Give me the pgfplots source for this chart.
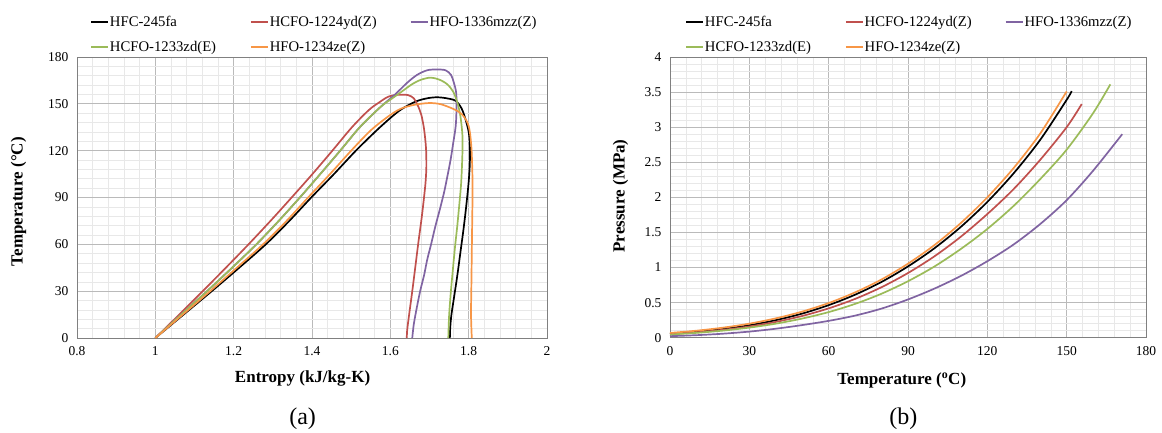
\documentclass[border=0pt]{standalone}
\usepackage{fontspec}
\setmainfont{Liberation Serif}
\usepackage{pgfplots}
\pgfplotsset{compat=1.18}
\definecolor{cRed}{RGB}{192,80,77}
\definecolor{cPurple}{RGB}{128,100,162}
\definecolor{cGreen}{RGB}{155,187,89}
\definecolor{cOrange}{RGB}{247,150,70}
\pgfplotsset{myax/.style={
  scale only axis, clip=false,
  grid=both,
  major grid style={black!27, line width=0.8pt},
  minor grid style={black!9, line width=0.6pt},
  axis line style={black!50, line width=0.9pt},
  major tick length=0pt, minor tick length=0pt,
  minor x tick num=4, minor y tick num=4,
  tick label style={font=\fontsize{13.5}{16}\selectfont},
  yticklabel style={xshift=-5pt},
  xticklabel style={yshift=-5pt},
  /pgf/number format/assume math mode=true,
  label style={font=\bfseries\fontsize{17}{20}\selectfont},
  legend columns=3,
  legend cell align=left,
  legend style={draw=none, fill=none, anchor=west,
    font=\fontsize{14.7}{17}\selectfont, inner sep=0pt,
    row sep=3pt,
    nodes={inner xsep=1pt, inner ysep=5pt},
    /tikz/every odd column/.style={column sep=0pt},
    /tikz/every even column/.style={column sep=0pt}},
  every axis plot/.append style={line width=1.7pt, smooth, no markers},
}}
\begin{document}
\begin{tikzpicture}
\path[use as bounding box] (0,0) rectangle (1162pt,432pt);
\begin{axis}[myax,
  at={(77pt,94pt)}, anchor=south west,
  width=470pt, height=281pt,
  xmin=0.8, xmax=2, ymin=0, ymax=180,
  xtick={0.8,1,1.2,1.4,1.6,1.8,2},
  ytick={0,30,60,90,120,150,180},
  xlabel={Entropy (kJ/kg-K)},
  ylabel={Temperature (°C)},
  xlabel style={at={(axis description cs:0.48,0)}, anchor=center, yshift=-40pt},
  ylabel style={at={(axis description cs:-0.1245,0.485)}, anchor=center},
  legend style={at={(axis description cs:0.0277,1.08)}},
]
\addplot[black] coordinates {
(1.000,0) (1.072,15) (1.144,30) (1.214,45) (1.282,60) (1.342,75) (1.398,90)
(1.456,105) (1.512,120) (1.565,133) (1.605,142) (1.630,146.8) (1.665,151.5)
(1.695,153.6) (1.720,154.2) (1.745,153.5) (1.767,151.9) (1.782,147) (1.792,140)
(1.800,132) (1.803,124) (1.803,112) (1.800,100) (1.794,85) (1.787,70) (1.779,55)
(1.771,40) (1.762,25) (1.756,15) (1.753,7) (1.752,0)};
\addlegendentry{\makebox[139pt][l]{HFC-245fa}}
\addplot[cRed] coordinates {
(1.000,0) (1.061,15) (1.121,30) (1.180,45) (1.238,60) (1.294,75) (1.348,90)
(1.401,105) (1.452,120) (1.502,135) (1.545,146) (1.572,151) (1.595,154.6)
(1.620,155.8) (1.645,155.6) (1.660,153.5) (1.670,149) (1.679,143) (1.686,134)
(1.691,122) (1.692,110) (1.690,100) (1.686,90) (1.680,77) (1.672,62) (1.664,46)
(1.656,30) (1.648,15) (1.643,5) (1.642,0)};
\addlegendentry{\makebox[139pt][l]{HCFO-1224yd(Z)}}
\addplot[cPurple] coordinates {
(1.000,0) (1.066,15) (1.132,30) (1.196,45) (1.258,60) (1.315,75) (1.369,90)
(1.421,105) (1.472,120) (1.522,135) (1.575,148) (1.612,156) (1.643,163.5)
(1.668,168.5) (1.694,171.5) (1.718,172) (1.741,171.5) (1.755,168.5) (1.762,163.7)
(1.768,157.3) (1.769,148) (1.767,136) (1.760,124) (1.754,114.4) (1.746,104)
(1.737,93) (1.726,82) (1.715,71.6) (1.704,60) (1.694,50) (1.686,40) (1.677,31)
(1.668,20) (1.660,9) (1.656,0)};
\addlegendentry{\makebox[139pt][l]{HFO-1336mzz(Z)}}
\addplot[cGreen] coordinates {
(1.000,0) (1.066,15) (1.132,30) (1.196,45) (1.258,60) (1.315,75) (1.369,90)
(1.421,105) (1.472,120) (1.522,135) (1.575,148) (1.602,153) (1.630,158)
(1.655,162.5) (1.678,165.4) (1.703,166.8) (1.725,165.5) (1.745,162.6) (1.760,158)
(1.771,151) (1.779,142) (1.784,130) (1.784,118) (1.781,100) (1.777,88) (1.771,72)
(1.765,58) (1.759,42) (1.754,28) (1.750,14) (1.748,0)};
\addlegendentry{\makebox[139pt][l]{HCFO-1233zd(E)}}
\addplot[cOrange] coordinates {
(1.000,0) (1.070,15) (1.140,30) (1.208,45) (1.275,60) (1.335,75) (1.390,90)
(1.446,105) (1.500,120) (1.550,133) (1.595,142) (1.626,146.8) (1.660,149.3)
(1.698,150.5) (1.728,149.8) (1.762,146.6) (1.782,143.5) (1.797,138) (1.803,132)
(1.807,122) (1.809,110) (1.810,95) (1.809,75) (1.808,55) (1.807,35) (1.806,15)
(1.808,0)};
\addlegendentry{\makebox[139pt][l]{HFO-1234ze(Z)}}
\node[font=\fontsize{24}{28}\selectfont] at (axis description cs:0.48,-0.288) {(a)};
\end{axis}
\begin{axis}[myax,
  at={(670pt,94.3pt)}, anchor=south west,
  width=476pt, height=280.7pt,
  xmin=0, xmax=180, ymin=0, ymax=4,
  xtick={0,30,60,90,120,150,180},
  ytick={0,0.5,1,1.5,2,2.5,3,3.5,4},
  xlabel={Temperature (\textsuperscript{o}C)},
  ylabel={Pressure (MPa)},
  xlabel style={at={(axis description cs:0.487,0)}, anchor=center, yshift=-43pt},
  ylabel style={at={(axis description cs:-0.104,0.505)}, anchor=center},
  legend style={at={(axis description cs:0.0315,1.08)}},
]
\addplot[black] coordinates {
(0,0.054) (10,0.083) (20,0.123) (30,0.177) (40,0.250) (50,0.344) (60,0.464)
(70,0.613) (80,0.795) (90,1.016) (100,1.275) (110,1.580) (120,1.935) (130,2.345)
(140,2.820) (150,3.390) (151.9,3.515)};
\addlegendentry{\makebox[139pt][l]{HFC-245fa}}
\addplot[cRed] coordinates {
(0,0.050) (10,0.076) (20,0.112) (30,0.160) (40,0.225) (50,0.310) (60,0.418)
(70,0.553) (80,0.720) (90,0.922) (100,1.160) (110,1.440) (120,1.762) (130,2.120)
(140,2.535) (150,3.000) (155.7,3.330)};
\addlegendentry{\makebox[139pt][l]{HCFO-1224yd(Z)}}
\addplot[cPurple] coordinates {
(0,0.022) (10,0.036) (20,0.057) (30,0.087) (40,0.128) (50,0.180) (60,0.240)
(70,0.315) (80,0.415) (90,0.545) (100,0.700) (110,0.880) (120,1.090) (130,1.330)
(140,1.620) (150,1.960) (160,2.380) (171,2.900)};
\addlegendentry{\makebox[139pt][l]{HFO-1336mzz(Z)}}
\addplot[cGreen] coordinates {
(0,0.046) (10,0.069) (20,0.101) (30,0.144) (40,0.200) (50,0.273) (60,0.365)
(70,0.482) (80,0.627) (90,0.805) (100,1.015) (110,1.265) (120,1.550) (130,1.880)
(140,2.260) (150,2.680) (160,3.200) (166.5,3.610)};
\addlegendentry{\makebox[139pt][l]{HCFO-1233zd(E)}}
\addplot[cOrange] coordinates {
(0,0.068) (10,0.100) (20,0.143) (30,0.200) (40,0.276) (50,0.372) (60,0.494)
(70,0.646) (80,0.830) (90,1.055) (100,1.320) (110,1.635) (120,2.000) (130,2.420)
(140,2.910) (150,3.510)};
\addlegendentry{\makebox[139pt][l]{HFO-1234ze(Z)}}
\node[font=\fontsize{24}{28}\selectfont] at (axis description cs:0.49,-0.29) {(b)};
\end{axis}
\end{tikzpicture}
\end{document}
